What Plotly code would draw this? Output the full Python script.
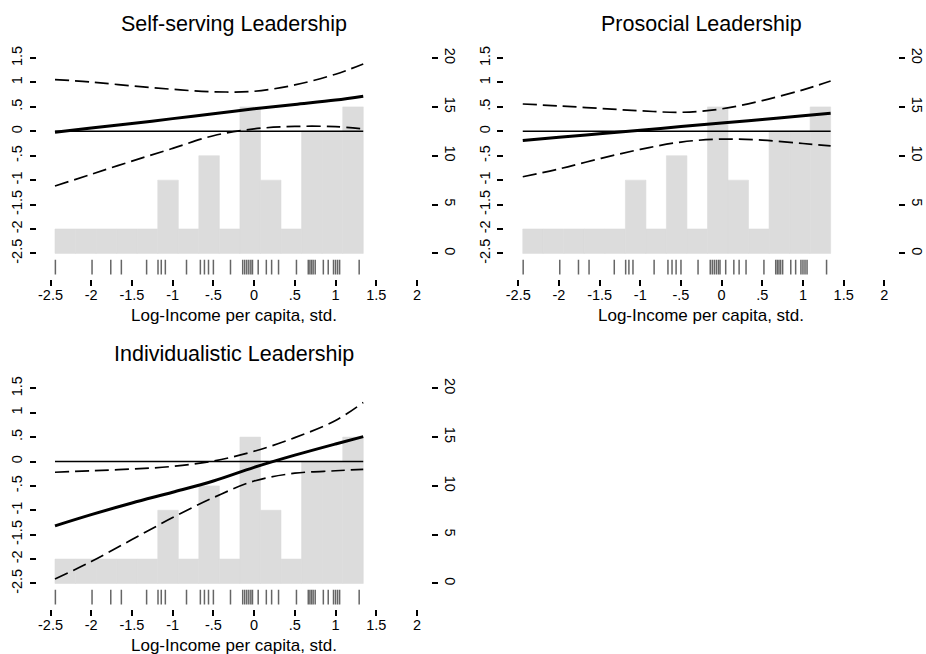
import plotly.graph_objects as go

# ---------------- data ----------------
x_grid = [-2.445, -2.0, -1.5, -1.0, -0.5, 0.0, 0.5, 1.0, 1.34]

self_est = [-0.02, 0.07, 0.16, 0.26, 0.36, 0.46, 0.55, 0.64, 0.72]
self_hi = [1.06, 1.01, 0.93, 0.86, 0.81, 0.82, 0.95, 1.17, 1.38]
self_lo = [-1.12, -0.88, -0.61, -0.35, -0.09, 0.05, 0.10, 0.095, 0.05]

pro_est = [-0.19, -0.12, -0.05, 0.02, 0.10, 0.17, 0.24, 0.32, 0.37]
pro_hi = [0.56, 0.52, 0.47, 0.42, 0.39, 0.46, 0.63, 0.85, 1.03]
pro_lo = [-0.93, -0.77, -0.56, -0.37, -0.22, -0.16, -0.18, -0.25, -0.30]

ind_est = [-1.32, -1.09, -0.85, -0.63, -0.40, -0.12, 0.13, 0.36, 0.51]
ind_hi = [-0.22, -0.19, -0.155, -0.10, 0.01, 0.21, 0.49, 0.84, 1.21]
ind_lo = [-2.41, -2.05, -1.60, -1.15, -0.74, -0.40, -0.24, -0.19, -0.16]

hist_left = [-2.445, -2.193, -1.940, -1.688, -1.436, -1.183, -0.931, -0.679,
             -0.426, -0.174, 0.078, 0.331, 0.583, 0.835, 1.088]
hist_width = 0.2523
hist_pct = [2.5, 2.5, 2.5, 2.5, 2.5, 7.5, 2.5, 10, 2.5, 15, 7.5, 2.5, 12.5, 12.5, 15]

rug_x = [-2.44, -1.99, -1.76, -1.63, -1.32, -1.18, -1.14, -1.09, -0.83, -0.66,
         -0.61, -0.56, -0.50, -0.29, -0.14, -0.115, -0.09, -0.065, -0.04, -0.02,
         0.05, 0.15, 0.215, 0.30, 0.52, 0.665, 0.685, 0.705, 0.725, 0.75, 0.85,
         0.91, 0.975, 1.0, 1.025, 1.05, 1.29]

x_ticks = [-2.5, -2, -1.5, -1, -0.5, 0, 0.5, 1, 1.5, 2]
x_ticktext = ["-2.5", "-2", "-1.5", "-1", "-.5", "0", ".5", "1", "1.5", "2"]
y_ticks = [-2.5, -2, -1.5, -1, -0.5, 0, 0.5, 1, 1.5]
y_ticktext = ["-2.5", "-2", "-1.5", "-1", "-.5", "0", ".5", "1", "1.5"]
pct_ticks = [0, 5, 10, 15, 20]

titles = ["Self-serving Leadership", "Prosocial Leadership", "Individualistic Leadership"]
x_title = "Log-Income per capita, std."
panels = [(self_est, self_hi, self_lo), (pro_est, pro_hi, pro_lo), (ind_est, ind_hi, ind_lo)]

# ---------------- layout geometry ----------------
W, H = 926, 654
FONT = "Liberation Sans, Arial, sans-serif"
x_rng = [-2.672, 2.172]
y_rng = [-3.02, 1.65]
p_rng = [(y_rng[0] + 2.5) * 5, (y_rng[1] + 2.5) * 5]
rug_y = (-2.63, -2.93)

# pixel boxes: (left, right, top, bottom)
boxes = [(36.5, 431.0, 46.1, 275.9), (504.3, 898.3, 46.1, 275.9), (36.5, 431.0, 378.9, 608.5)]

fig = go.Figure()
layout = dict(width=W, height=H, autosize=False, margin=dict(l=0, r=0, t=0, b=0),
              paper_bgcolor="white", plot_bgcolor="white", showlegend=False,
              font=dict(family=FONT, color="black"))
annotations = []

for i, ((est, hi, lo), box) in enumerate(zip(panels, boxes)):
    n = i + 1
    xa = "x" if n == 1 else f"x{n}"
    ya_p = f"y{2 * n - 1}" if n > 1 else "y"   # histogram (percent) axis, right
    ya_e = f"y{2 * n}"                          # effect axis, left
    l, r, t, b = box
    xdom = [l / W, r / W]
    ydom = [1 - b / H, 1 - t / H]

    # histogram
    fig.add_trace(go.Bar(x=hist_left, y=hist_pct, width=[hist_width] * len(hist_left), offset=0,
                         marker=dict(color="#dcdcdc", line=dict(color="#dcdcdc", width=0.6)),
                         xaxis=xa, yaxis=ya_p, hoverinfo="skip"))
    # rug
    rx, ry = [], []
    for v in rug_x:
        rx += [v, v, None]
        ry += [rug_y[0], rug_y[1], None]
    fig.add_trace(go.Scatter(x=rx, y=ry, mode="lines", line=dict(color="#666666", width=1.5),
                             xaxis=xa, yaxis=ya_e, hoverinfo="skip"))
    # zero reference line
    fig.add_trace(go.Scatter(x=[x_grid[0], x_grid[-1]], y=[0, 0], mode="lines",
                             line=dict(color="black", width=1.6), xaxis=xa, yaxis=ya_e))
    # CI
    for band in (hi, lo):
        fig.add_trace(go.Scatter(x=x_grid, y=band, mode="lines",
                                 line=dict(color="black", width=1.7, dash="14px,6px", shape="spline"),
                                 xaxis=xa, yaxis=ya_e))
    # estimate
    fig.add_trace(go.Scatter(x=x_grid, y=est, mode="lines",
                             line=dict(color="black", width=3, shape="spline"),
                             xaxis=xa, yaxis=ya_e))

    xkey = "xaxis" if n == 1 else f"xaxis{n}"
    ypkey = "yaxis" if n == 1 else f"yaxis{2 * n - 1}"
    yekey = f"yaxis{2 * n}"
    tickfont = dict(family=FONT, size=14.5, color="black")
    layout[xkey] = dict(domain=xdom, range=x_rng, anchor=ya_e, tickvals=x_ticks, ticktext=x_ticktext,
                        ticks="outside", ticklen=6, tickwidth=1.6, tickcolor="black",
                        showgrid=False, zeroline=False, showline=False, tickfont=tickfont,
                        ticklabelstandoff=-3, fixedrange=True)
    layout[ypkey] = dict(domain=ydom, range=p_rng, anchor=xa, side="right", tickvals=pct_ticks,
                         ticks="outside", ticklen=6, tickwidth=1.6, tickcolor="black",
                         tickangle=90, showgrid=False, zeroline=False, showline=False,
                         tickfont=tickfont, ticklabelstandoff=1)
    layout[yekey] = dict(range=y_rng, anchor=xa, overlaying=ya_p, side="left",
                         tickvals=y_ticks, ticktext=y_ticktext,
                         ticks="outside", ticklen=6, tickwidth=1.6, tickcolor="black",
                         tickangle=-90, showgrid=False, zeroline=False, showline=False,
                         tickfont=tickfont, ticklabelstandoff=2)

    # title and x-axis title
    cx = (l + 14 + r - 14) / 2
    annotations.append(dict(text=titles[i], x=cx / W, y=1 - (t - 27) / H, xref="paper", yref="paper",
                            xanchor="center", yanchor="middle", showarrow=False,
                            font=dict(family=FONT, size=21.5, color="black")))
    annotations.append(dict(text=x_title, x=cx / W, y=1 - (b + 37) / H, xref="paper", yref="paper",
                            xanchor="center", yanchor="middle", showarrow=False,
                            font=dict(family=FONT, size=17, color="black")))

layout["annotations"] = annotations
fig.update_layout(**layout)
fig.write_html("out.html", config={"displayModeBar": False},
               post_script="document.body.style.margin='0';")
